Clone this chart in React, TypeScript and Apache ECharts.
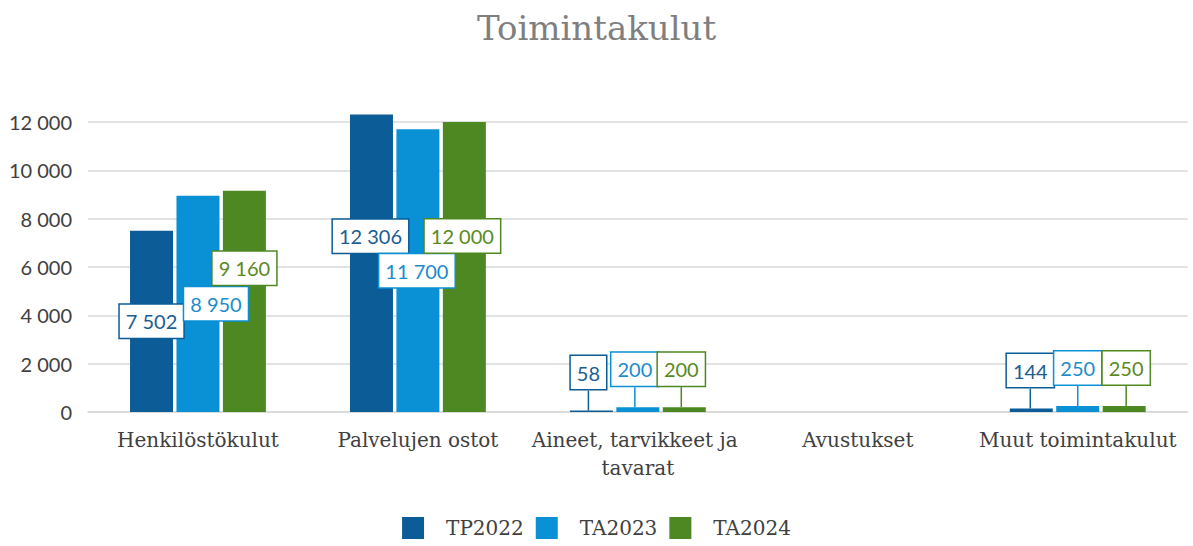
import React, { useEffect, useRef } from "react";
import * as echarts from "echarts";

const categories = [
  "Henkilöstökulut",
  "Palvelujen ostot",
  "Aineet, tarvikkeet ja tavarat",
  "Avustukset",
  "Muut toimintakulut",
];
const seriesNames = ["TP2022", "TA2023", "TA2024"];
const tp2022 = [7502, 12306, 58, null, 144];
const ta2023 = [8950, 11700, 200, null, 250];
const ta2024 = [9160, 12000, 200, null, 250];
const yTicks = [0, 2000, 4000, 6000, 8000, 10000, 12000];

const COLORS = ["#0B5C97", "#0A90D4", "#4E8822"];
const LABEL_COLORS = ["#1A5E91", "#1C8CCB", "#5A8A1E"];

// manual label shifts (dx, dy) relative to the bar centre, per series / category
const LABEL_SHIFT: Record<string, [number, number]> = {
  "0-0": [0, 0],
  "1-0": [18, 0],
  "2-0": [0, -33],
  "0-1": [-1, -27],
  "1-1": [-1, 0],
  "2-1": [-2, -31],
  "0-2": [-3, 0],
  "1-2": [-3, 0],
  "2-2": [-3, 0],
  "0-4": [-1, 0],
  "1-4": [0, 0],
  "2-4": [2, 0],
};

const fmt = (v: number) => String(v).replace(/\B(?=(\d{3})+(?!\d))/g, " ");

export default function App() {
  const ref = useRef<HTMLDivElement>(null);
  useEffect(() => {
    document.body.style.margin = "0";
    if (!ref.current) return;
    const chart = echarts.init(ref.current, null, { renderer: "svg" });
    const all = [tp2022, ta2023, ta2024];
    const SMALL = 1000;
    chart.setOption({
      animation: false,
      backgroundColor: "#ffffff",
      title: {
        text: "Toimintakulut",
        left: "center",
        top: 6,
        textStyle: {
          fontFamily: "DejaVu Serif",
          fontSize: 34,
          fontWeight: "normal",
          color: "#7F7F7F",
        },
      },
      legend: {
        bottom: 2,
        left: "center",
        itemWidth: 22,
        itemHeight: 22,
        itemGap: 12,
        icon: "rect",
        textStyle: {
          fontFamily: "DejaVu Serif",
          fontSize: 20,
          color: "#404040",
          padding: [0, 0, 0, 17],
        },
        data: seriesNames,
      },
      grid: { left: 88, right: 3, top: 122, bottom: 134, containLabel: false },
      xAxis: {
        type: "category",
        data: categories,
        axisLine: { lineStyle: { color: "#D9D9D9", width: 1.5 } },
        axisTick: { show: false },
        axisLabel: {
          interval: 0,
          margin: 14,
          fontFamily: "DejaVu Serif",
          fontSize: 20,
          color: "#404040",
          lineHeight: 28,
          width: 225,
          overflow: "break",
        },
      },
      yAxis: {
        type: "value",
        min: 0,
        max: yTicks[yTicks.length - 1],
        interval: 2000,
        axisLine: { show: false },
        axisTick: { show: false },
        splitLine: { lineStyle: { color: "#D9D9D9", width: 1.5 } },
        axisLabel: {
          margin: 16,
          fontFamily: "Lato",
          fontSize: 20,
          color: "#404040",
          formatter: (v: number) => fmt(v),
        },
      },
      series: seriesNames.map((name, si) => ({
        name,
        type: "bar",
        barWidth: 43,
        barGap: "8%",
        clip: false,
        itemStyle: { color: COLORS[si] },
        data: all[si].map((v) =>
          v === null
            ? null
            : {
                value: v,
                labelLine: { show: v < SMALL },
              }
        ),
        label: {
          show: true,
          position: "inside",
          formatter: (p: any) => fmt(p.value),
          fontFamily: "Lato",
          fontSize: 20,
          color: LABEL_COLORS[si],
          backgroundColor: "#ffffff",
          borderColor: COLORS[si],
          borderWidth: 1.5,
          padding: [7, 6, 6, 6],
        },
        labelLine: {
          show: false,
          lineStyle: { color: COLORS[si], width: 1.5 },
        },
        labelLayout: (p: any) => {
          const key = `${p.seriesIndex}-${p.dataIndex}`;
          const [dx, dy] = LABEL_SHIFT[key] || [0, 0];
          const r = p.rect;
          const cx = r.x + r.width / 2;
          const top = Math.min(r.y, r.y + r.height);
          const val = all[p.seriesIndex][p.dataIndex] as number;
          if (val < SMALL) {
            return { x: cx + dx, y: top - 38 + dy, align: "center", verticalAlign: "middle" };
          }
          return {
            x: cx + dx,
            y: r.y + r.height / 2 + dy,
            align: "center",
            verticalAlign: "middle",
          };
        },
      })),
    });
    return () => chart.dispose();
  }, []);
  return (
    <div
      ref={ref}
      style={{ position: "fixed", left: 0, top: 0, width: 1193, height: 546 }}
    />
  );
}
